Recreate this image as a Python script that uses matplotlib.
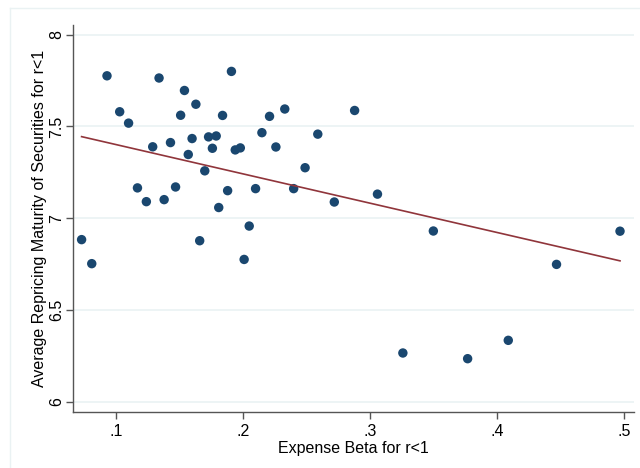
import numpy as np
import matplotlib
matplotlib.use("Agg")
import matplotlib.pyplot as plt
from matplotlib.lines import Line2D

plt.rcParams['font.family'] = ['Liberation Sans', 'DejaVu Sans']

# expense beta (x) and average repricing maturity (y)
beta = [0.073, 0.081, 0.093, 0.103, 0.110, 0.117, 0.124, 0.129, 0.134, 0.138,
        0.143, 0.147, 0.151, 0.154, 0.157, 0.160, 0.163, 0.166, 0.170, 0.173,
        0.176, 0.179, 0.181, 0.184, 0.188, 0.191, 0.194, 0.198, 0.201, 0.205,
        0.210, 0.215, 0.221, 0.226, 0.233, 0.240, 0.249, 0.259, 0.272, 0.288,
        0.306, 0.326, 0.350, 0.377, 0.409, 0.447, 0.497]
maturity = [6.883, 6.752, 7.776, 7.580, 7.518, 7.165, 7.090, 7.389, 7.764, 7.101,
            7.412, 7.170, 7.561, 7.696, 7.347, 7.434, 7.621, 6.877, 7.258, 7.443,
            7.381, 7.448, 7.058, 7.560, 7.150, 7.800, 7.372, 7.383, 6.775, 6.957,
            7.161, 7.466, 7.555, 7.388, 7.595, 7.161, 7.275, 7.458, 7.088, 7.587,
            7.131, 6.265, 6.930, 6.234, 6.334, 6.748, 6.929]

# fitted line as shown in the reference (weighted fit, not plain OLS)
fit_intercept = 7.561
fit_slope = -1.597

xticks = [0.1, 0.2, 0.3, 0.4, 0.5]
xticklabels = ['.1', '.2', '.3', '.4', '.5']
yticks = [6, 6.5, 7, 7.5, 8]
yticklabels = ['6', '6.5', '7', '7.5', '8']

navy = '#1a476f'
maroon = '#90353b'

fig = plt.figure(figsize=(6.4, 4.68), dpi=100)
ax = fig.add_axes([0.1136, 0.1203, 0.877, 0.8263])

# faint outer frame of the graph region
fig.add_artist(Line2D([10 / 640, 10 / 640], [0, 1 - 8 / 468], color='#eaf2f3', lw=1))
fig.add_artist(Line2D([10 / 640, 1], [1 - 8 / 468, 1 - 8 / 468], color='#eaf2f3', lw=1))

x = np.array(beta)
y = np.array(maturity)
xl = np.array([x.min(), x.max()])

ax.grid(axis='y', color='#eaf2f3', linewidth=1.2, zorder=0)
ax.scatter(x, y, s=46, color=navy, edgecolors='none', zorder=3)
ax.plot(xl, fit_intercept + fit_slope * xl, color=maroon, linewidth=1.2, zorder=4)

ax.set_xlim(0.066, 0.508)
ax.set_ylim(5.945, 8.053)
ax.set_xticks(xticks)
ax.set_xticklabels(xticklabels)
ax.set_yticks(yticks)
ax.set_yticklabels(yticklabels, rotation=90, va='center')
ax.tick_params(axis='both', labelsize=11.5, length=5, width=1, color='#555555')
ax.tick_params(axis='y', pad=1)
ax.tick_params(axis='x', pad=4)

for side in ['top', 'right']:
    ax.spines[side].set_visible(False)
for side in ['left', 'bottom']:
    ax.spines[side].set_color('#555555')
    ax.spines[side].set_linewidth(1)

ax.set_xlabel('Expense Beta for r<1', fontsize=11.5, labelpad=1)
ax.set_ylabel('Average Repricing Maturity of Securities for r<1', fontsize=11.5, labelpad=2)

fig.savefig('out.png', dpi=100)
